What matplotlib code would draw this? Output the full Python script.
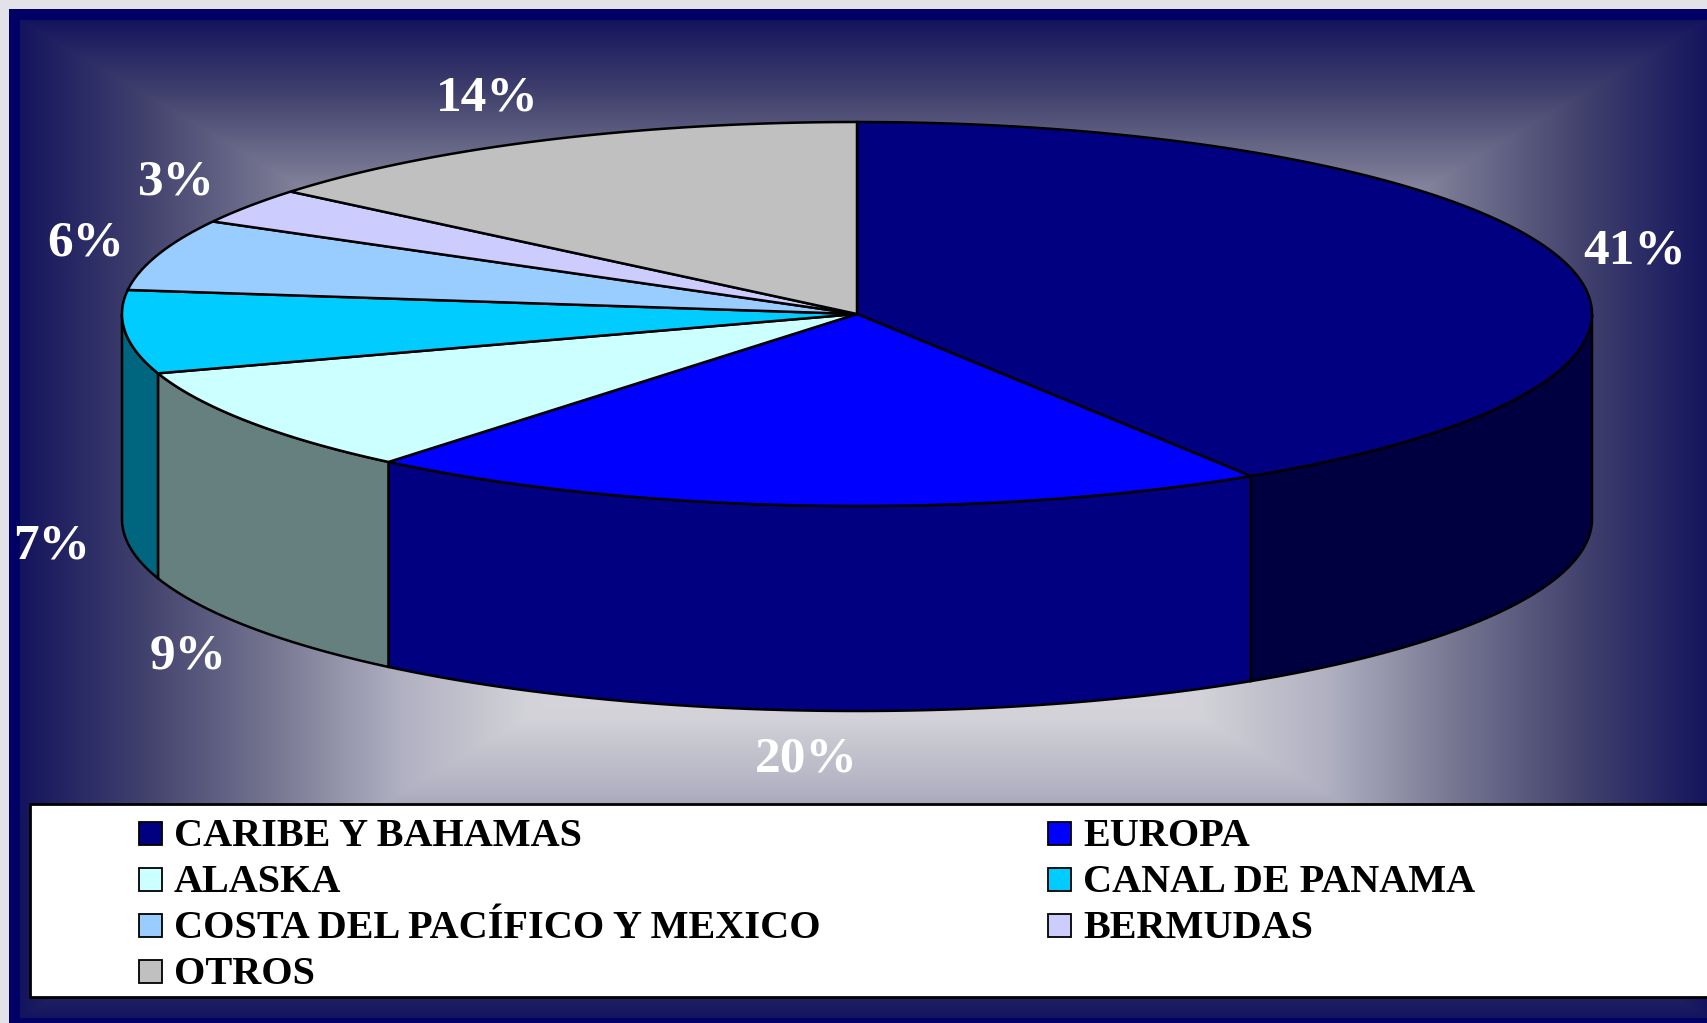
import numpy as np
import matplotlib
matplotlib.use("Agg")
import matplotlib.pyplot as plt
from matplotlib.patches import Polygon, Rectangle
from matplotlib.colors import to_rgb

# data
categories = ["CARIBE Y BAHAMAS", "EUROPA", "ALASKA", "CANAL DE PANAMA",
              "COSTA DEL PACÍFICO Y MEXICO", "BERMUDAS", "OTROS"]
shares = [41, 20, 9, 7, 6, 3, 14]
slice_colors = ["#000080", "#0000FF", "#CCFFFF", "#00CCFF", "#99CCFF", "#CCCCFF", "#C0C0C0"]

W, H = 1708, 1023
fig = plt.figure(figsize=(W / 100, H / 100), dpi=100, facecolor="#e2e2e8")
ax = fig.add_axes([0, 0, 1, 1])
ax.set_xlim(0, W)
ax.set_ylim(H, 0)
ax.axis("off")

# slide frame + rectangular "from center" gradient
ax.add_patch(Rectangle((9, 9), W, H, facecolor="#000066", edgecolor="none", zorder=0))
gx0, gx1, gy0, gy1 = 20, W, 20, 1018
xs = np.arange(gx0, gx1) + 0.5
ys = np.arange(gy0, gy1) + 0.5
XX, YY = np.meshgrid(xs, ys)
sx = np.minimum(XX - gx0, gx1 - XX) / ((gx1 - gx0) / 2)
sy = np.minimum(YY - gy0, gy1 - YY) / ((gy1 - gy0) / 2)
s = np.minimum(sx, sy)
stops = [0, 0.15, 0.3, 0.45, 0.6, 1.0]
rr = [20, 66, 118, 176, 210, 232]
gg = [20, 66, 118, 176, 210, 232]
bb = [94, 110, 146, 194, 216, 236]
img = np.dstack([np.interp(s, stops, rr), np.interp(s, stops, gg), np.interp(s, stops, bb)]) / 255
ax.imshow(img, extent=(gx0, gx1, gy1, gy0), aspect="auto", zorder=1, interpolation="bilinear")

# 3D pie geometry (pixels)
cx, cy, a, b, depth = 857, 314, 735, 192, 205


def arc(t0, t1, dy=0):
    t = np.radians(np.linspace(t0, t1, 200))
    return np.column_stack([cx + a * np.cos(t), cy + dy - b * np.sin(t)])


total = sum(shares)
bounds = []
start = 90.0
for v in shares:
    end = start - v / total * 360
    bounds.append((end, start))
    start = end

# side walls (front half only)
for (lo, hi), col in zip(bounds, slice_colors):
    l, h = max(lo, -180), min(hi, 0)
    if h <= l:
        continue
    side = np.array(to_rgb(col)) * 0.5
    pts = np.vstack([arc(l, h), arc(h, l, depth)])
    ax.add_patch(Polygon(pts, closed=True, facecolor=side, edgecolor="black", lw=1.8, zorder=3))

# top faces
for (lo, hi), col in zip(bounds, slice_colors):
    pts = np.vstack([[cx, cy], arc(lo, hi)])
    ax.add_patch(Polygon(pts, closed=True, facecolor=col, edgecolor="black", lw=1.8, zorder=4))

# percentage labels
fs = 37
for (lo, hi), v in zip(bounds, shares):
    m = np.radians((lo + hi) / 2)
    sn, cs = np.sin(m), np.cos(m)
    lx = cx + 1.1 * a * cs + 80 * cs * max(sn, 0) ** 3
    ly = cy - 1.1 * b * sn - (32 if sn > 0 else 25) * sn
    if sn < 0:
        ly += depth
    ax.text(lx, ly + 0.33 * fs * 100 / 72, f"{v}%", color="white", fontsize=fs,
            fontweight="bold", family="Liberation Serif", ha="center", va="baseline", zorder=6)

# legend box
ax.add_patch(Rectangle((30, 804), 1720, 193, facecolor="white", edgecolor="black", lw=2, zorder=5))
col_x = [139, 1048]
row_base = [846, 892, 938, 984]
for i, (name, col) in enumerate(zip(categories, slice_colors)):
    c, r = i % 2, i // 2
    x, yb = col_x[c], row_base[r]
    ax.add_patch(Rectangle((x, yb - 24), 23, 23, facecolor=col, edgecolor="black", lw=1.3, zorder=6))
    ax.text(x + 35, yb, name, color="black", fontsize=29, fontweight="bold",
            family="Liberation Serif", ha="left", va="baseline", zorder=6)

fig.savefig("out.png", dpi=100, facecolor=fig.get_facecolor())
